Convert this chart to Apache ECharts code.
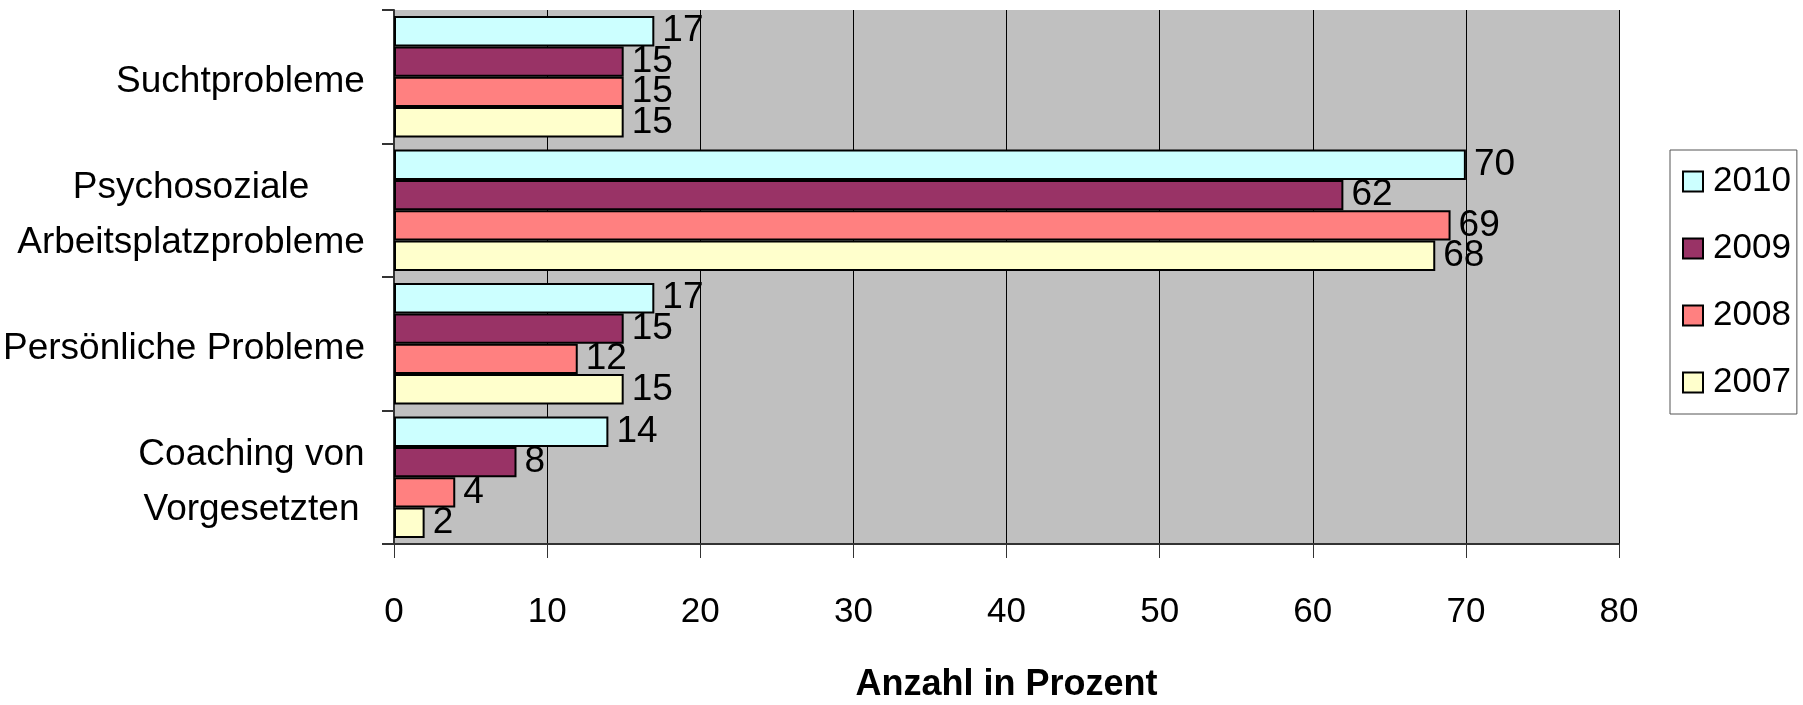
<!DOCTYPE html>
<html>
<head>
<meta charset="utf-8">
<script src="https://cdn.jsdelivr.net/npm/echarts@6/dist/echarts.min.js"></script>
<style>
  html, body { margin: 0; padding: 0; background: #fff; }
  #chart { width: 1803px; height: 705px; }
</style>
</head>
<body>
<div id="chart"></div>
<script>
// categories, top to bottom
const categories = [
  'Suchtprobleme',
  'Psychosoziale\nArbeitsplatzprobleme',
  'Persönliche Probleme',
  'Coaching von\nVorgesetzten'
];
const years = ['2010', '2009', '2008', '2007'];
const values2010 = [17, 70, 17, 14];
const values2009 = [15, 62, 15, 8];
const values2008 = [15, 69, 12, 4];
const values2007 = [15, 68, 15, 2];
const xTicks = { min: 0, max: 80, interval: 10 };

const colors = {
  '2010': '#CCFFFF',
  '2009': '#993366',
  '2008': '#FF8080',
  '2007': '#FFFFCC'
};
const font = '"Liberation Sans", Arial, sans-serif';
const catFontSize = 37;

// each multi-line label is right aligned as a block, lines centered inside it
const measureCtx = document.createElement('canvas').getContext('2d');
measureCtx.font = catFontSize + 'px ' + font;
const catRich = {};
categories.forEach(function (c, i) {
  const w = Math.max.apply(null, c.split('\n').map(function (l) {
    return measureCtx.measureText(l).width;
  }));
  catRich['c' + i] = {
    width: Math.ceil(w) + 2,
    align: 'center',
    fontSize: catFontSize,
    fontFamily: font,
    lineHeight: 55,
    color: '#000'
  };
});

function makeSerie(name, data) {
  return {
    name: name,
    type: 'bar',
    data: data,
    barGap: '0%',
    barCategoryGap: '9%',
    itemStyle: {
      color: colors[name],
      borderColor: '#000',
      borderWidth: 2
    },
    label: {
      show: true,
      position: 'right',
      distance: 8,
      fontFamily: font,
      fontSize: 37,
      color: '#000'
    },
    emphasis: { disabled: true }
  };
}

const chart = echarts.init(document.getElementById('chart'));
chart.setOption({
  animation: false,
  backgroundColor: '#fff',
  grid: {
    left: 394,
    right: 184,
    top: 10,
    bottom: 161,
    outerBoundsMode: 'none',
    containLabel: false,
    show: true,
    backgroundColor: '#C0C0C0',
    borderWidth: 0
  },
  legend: {
    data: years,
    orient: 'vertical',
    left: 1670,
    top: 150,
    width: 124,
    padding: [14, 6, 14, 12],
    itemGap: 32,
    itemWidth: 20,
    itemHeight: 20,
    backgroundColor: '#fff',
    borderColor: '#555',
    borderWidth: 1,
    borderRadius: 0,
    icon: 'rect',
    textStyle: {
      fontFamily: font,
      fontSize: 35,
      lineHeight: 34,
      color: '#000',
      padding: [0, 0, 0, 5]
    }
  },
  xAxis: {
    type: 'value',
    min: xTicks.min,
    max: xTicks.max,
    interval: xTicks.interval,
    name: 'Anzahl in Prozent',
    nameLocation: 'middle',
    nameGap: 123,
    nameTextStyle: {
      fontFamily: font,
      fontWeight: 'bold',
      fontSize: 36,
      color: '#000'
    },
    axisLine: { show: true, lineStyle: { color: '#333', width: 2 } },
    axisTick: { show: true, inside: false, length: 14, lineStyle: { color: '#333', width: 1 } },
    axisLabel: {
      margin: 51,
      fontFamily: font,
      fontSize: 35,
      color: '#000'
    },
    splitLine: { show: true, lineStyle: { color: '#000', width: 1 } }
  },
  yAxis: {
    type: 'category',
    data: categories,
    inverse: true,
    axisLine: { show: true, lineStyle: { color: '#333', width: 2 } },
    axisTick: { show: true, inside: false, length: 12, lineStyle: { color: '#333', width: 2 } },
    axisLabel: {
      margin: 28,
      padding: [10, 0, 0, 0],
      formatter: function (value, index) {
        return value.split('\n').map(function (l) {
          return '{c' + index + '|' + l + '}';
        }).join('\n');
      },
      rich: catRich
    },
    splitLine: { show: false }
  },
  series: [
    makeSerie('2010', values2010),
    makeSerie('2009', values2009),
    makeSerie('2008', values2008),
    makeSerie('2007', values2007)
  ]
});
</script>
</body>
</html>
